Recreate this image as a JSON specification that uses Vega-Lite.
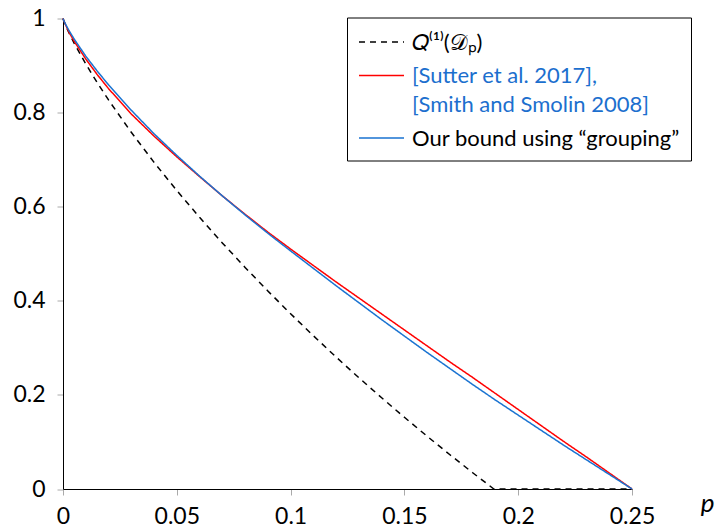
{
  "$schema": "https://vega.github.io/schema/vega-lite/v6.json",
  "autosize": {"type": "none"},
  "width": 569,
  "height": 470.5,
  "padding": {"left": 63, "top": 18.5, "right": 83, "bottom": 39},
  "background": "white",
  "config": {
    "view": {"stroke": null},
    "axis": {
      "grid": false,
      "domainColor": "black",
      "domainWidth": 1,
      "tickColor": "#aaaaaa",
      "tickSize": 6,
      "tickWidth": 1,
      "labelFont": "Lato",
      "labelFontSize": 23,
      "labelColor": "black",
      "labelFlush": false,
      "labelOverlap": false
    },
    "legend": {
      "title": null,
      "orient": "none",
      "legendX": 284,
      "legendY": -1,
      "strokeColor": "black",
      "fillColor": "white",
      "padding": 11,
      "symbolType": "M -1 0 L 2.6 0",
      "symbolSize": 625,
      "symbolStrokeWidth": 1.5,
      "labelFont": "Lato",
      "labelFontSize": 22,
      "labelLimit": 400,
      "labelOffset": 27,
      "labelBaseline": "alphabetic",
      "rowPadding": 8.5
    }
  },
  "datasets": {
    "curves": [
      {"series": "hash", "p": 0, "v": 1},
      {"series": "hash", "p": 0.0005, "v": 0.993},
      {"series": "hash", "p": 0.001, "v": 0.987},
      {"series": "hash", "p": 0.0025, "v": 0.971},
      {"series": "hash", "p": 0.005, "v": 0.9467},
      {"series": "hash", "p": 0.01, "v": 0.9034},
      {"series": "hash", "p": 0.015, "v": 0.8639},
      {"series": "hash", "p": 0.02, "v": 0.8269},
      {"series": "hash", "p": 0.03, "v": 0.7581},
      {"series": "hash", "p": 0.04, "v": 0.6943},
      {"series": "hash", "p": 0.05, "v": 0.6344},
      {"series": "hash", "p": 0.06, "v": 0.5775},
      {"series": "hash", "p": 0.07, "v": 0.5231},
      {"series": "hash", "p": 0.08, "v": 0.471},
      {"series": "hash", "p": 0.09, "v": 0.4209},
      {"series": "hash", "p": 0.1, "v": 0.3725},
      {"series": "hash", "p": 0.11, "v": 0.3257},
      {"series": "hash", "p": 0.12, "v": 0.2804},
      {"series": "hash", "p": 0.13, "v": 0.2365},
      {"series": "hash", "p": 0.14, "v": 0.1939},
      {"series": "hash", "p": 0.15, "v": 0.1524},
      {"series": "hash", "p": 0.16, "v": 0.1121},
      {"series": "hash", "p": 0.17, "v": 0.0728},
      {"series": "hash", "p": 0.18, "v": 0.0346},
      {"series": "hash", "p": 0.1893, "v": 0},
      {"series": "hash", "p": 0.25, "v": 0},
      {"series": "sutter", "p": 0, "v": 1},
      {"series": "sutter", "p": 0.0005, "v": 0.9935},
      {"series": "sutter", "p": 0.001, "v": 0.988},
      {"series": "sutter", "p": 0.0025, "v": 0.972},
      {"series": "sutter", "p": 0.005, "v": 0.951},
      {"series": "sutter", "p": 0.01, "v": 0.914},
      {"series": "sutter", "p": 0.015, "v": 0.881},
      {"series": "sutter", "p": 0.02, "v": 0.851},
      {"series": "sutter", "p": 0.03, "v": 0.797},
      {"series": "sutter", "p": 0.04, "v": 0.75},
      {"series": "sutter", "p": 0.05, "v": 0.706},
      {"series": "sutter", "p": 0.06, "v": 0.664},
      {"series": "sutter", "p": 0.07, "v": 0.623},
      {"series": "sutter", "p": 0.08, "v": 0.584},
      {"series": "sutter", "p": 0.09, "v": 0.546},
      {"series": "sutter", "p": 0.1, "v": 0.51},
      {"series": "sutter", "p": 0.11, "v": 0.475},
      {"series": "sutter", "p": 0.12, "v": 0.44},
      {"series": "sutter", "p": 0.13, "v": 0.406},
      {"series": "sutter", "p": 0.14, "v": 0.372},
      {"series": "sutter", "p": 0.15, "v": 0.338},
      {"series": "sutter", "p": 0.16, "v": 0.304},
      {"series": "sutter", "p": 0.17, "v": 0.27},
      {"series": "sutter", "p": 0.18, "v": 0.237},
      {"series": "sutter", "p": 0.19, "v": 0.203},
      {"series": "sutter", "p": 0.2, "v": 0.169},
      {"series": "sutter", "p": 0.21, "v": 0.135},
      {"series": "sutter", "p": 0.22, "v": 0.101},
      {"series": "sutter", "p": 0.23, "v": 0.068},
      {"series": "sutter", "p": 0.24, "v": 0.034},
      {"series": "sutter", "p": 0.25, "v": 0},
      {"series": "ours", "p": 0, "v": 1},
      {"series": "ours", "p": 0.0005, "v": 0.994},
      {"series": "ours", "p": 0.001, "v": 0.989},
      {"series": "ours", "p": 0.0025, "v": 0.9755},
      {"series": "ours", "p": 0.005, "v": 0.9556},
      {"series": "ours", "p": 0.01, "v": 0.92},
      {"series": "ours", "p": 0.015, "v": 0.8885},
      {"series": "ours", "p": 0.02, "v": 0.859},
      {"series": "ours", "p": 0.03, "v": 0.805},
      {"series": "ours", "p": 0.04, "v": 0.755},
      {"series": "ours", "p": 0.05, "v": 0.709},
      {"series": "ours", "p": 0.06, "v": 0.665},
      {"series": "ours", "p": 0.07, "v": 0.623},
      {"series": "ours", "p": 0.08, "v": 0.5825},
      {"series": "ours", "p": 0.09, "v": 0.5435},
      {"series": "ours", "p": 0.1, "v": 0.506},
      {"series": "ours", "p": 0.11, "v": 0.469},
      {"series": "ours", "p": 0.12, "v": 0.432},
      {"series": "ours", "p": 0.13, "v": 0.396},
      {"series": "ours", "p": 0.14, "v": 0.36},
      {"series": "ours", "p": 0.15, "v": 0.325},
      {"series": "ours", "p": 0.16, "v": 0.29},
      {"series": "ours", "p": 0.17, "v": 0.256},
      {"series": "ours", "p": 0.18, "v": 0.222},
      {"series": "ours", "p": 0.19, "v": 0.189},
      {"series": "ours", "p": 0.2, "v": 0.157},
      {"series": "ours", "p": 0.21, "v": 0.125},
      {"series": "ours", "p": 0.22, "v": 0.093},
      {"series": "ours", "p": 0.23, "v": 0.062},
      {"series": "ours", "p": 0.24, "v": 0.031},
      {"series": "ours", "p": 0.25, "v": 0}
    ]
  },
  "layer": [
    {
      "data": {"name": "curves"},
      "mark": {"type": "line", "strokeWidth": 1.5, "clip": false},
      "encoding": {
        "x": {
          "field": "p", "type": "quantitative",
          "scale": {"domain": [0, 0.25], "nice": false, "zero": false},
          "axis": {
            "values": [0, 0.05, 0.1, 0.15, 0.2, 0.25],
            "format": "~g",
            "labelPadding": 10,
            "title": "p",
            "titleFont": "Lato",
            "titleFontStyle": "italic",
            "titleFontWeight": "normal",
            "titleFontSize": 26,
            "titleColor": "black",
            "titleX": 644,
            "titleY": 22,
            "titleAlign": "center",
            "titleBaseline": "alphabetic",
            "encode": {"ticks": {"update": {"y": {"value": -6}}}}
          }
        },
        "y": {
          "field": "v", "type": "quantitative",
          "scale": {"domain": [0, 1], "nice": false},
          "axis": {
            "values": [0, 0.2, 0.4, 0.6, 0.8, 1],
            "format": "~g",
            "labelPadding": 12,
            "title": null,
            "encode": {"ticks": {"update": {"x": {"value": 6}}}}
          }
        },
        "color": {
          "field": "series", "type": "nominal",
          "scale": {"domain": ["hash", "sutter", "ours"], "range": ["#000000", "#ff0000", "#1a73d1"]},
          "legend": {
            "labelExpr": "datum.value === 'hash' ? '𝑄⁽¹⁾(𝒟ₚ)' : datum.value === 'sutter' ? ['[Sutter et al. 2017],', '[Smith and Smolin 2008]'] : 'Our bound using “grouping”'",
            "encode": {
              "labels": {
                "update": {
                  "fill": {"signal": "datum.value === 'sutter' ? '#1c6fce' : '#000000'"},
                  "lineHeight": {"value": 29},
                  "dy": {"value": 7.5}
                }
              }
            }
          }
        },
        "strokeDash": {
          "field": "series", "type": "nominal",
          "scale": {"domain": ["hash", "sutter", "ours"], "range": [[6, 5], [1, 0], [1, 0]]},
          "legend": {
            "labelExpr": "datum.value === 'hash' ? '𝑄⁽¹⁾(𝒟ₚ)' : datum.value === 'sutter' ? ['[Sutter et al. 2017],', '[Smith and Smolin 2008]'] : 'Our bound using “grouping”'",
            "encode": {
              "labels": {
                "update": {
                  "fill": {"signal": "datum.value === 'sutter' ? '#1c6fce' : '#000000'"},
                  "lineHeight": {"value": 29},
                  "dy": {"value": 7.5}
                }
              }
            }
          }
        }
      }
    },
    {
      "mark": {"type": "point", "shape": "M -0.9 1 Q -0.25 0.35 0 0 Q 0.25 0.35 0.9 1", "filled": false, "stroke": "black", "strokeWidth": 1, "size": 49, "opacity": 1, "clip": false},
      "encoding": {"x": {"datum": 0}, "y": {"datum": 1}}
    },
    {
      "mark": {"type": "point", "shape": "M -1 -0.9 Q -0.35 -0.25 0 0 Q -0.35 0.25 -1 0.9", "filled": false, "stroke": "black", "strokeWidth": 1, "size": 49, "opacity": 1, "clip": false},
      "encoding": {"x": {"datum": 0.25}, "y": {"datum": 0}}
    }
  ]
}
